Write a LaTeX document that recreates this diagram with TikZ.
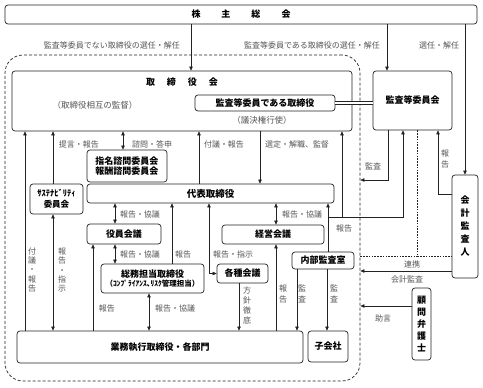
\documentclass[tikz,border=0pt]{standalone}
\usepackage{fontspec}
\setmainfont{Noto Sans CJK JP}
\usetikzlibrary{arrows.meta}
\definecolor{ink}{HTML}{222222}
\definecolor{note}{HTML}{555555}
\tikzset{
  bx/.style={draw=ink, fill=white, rounded corners=3pt, line width=.7pt, inner sep=0pt, align=center,
             font=\bfseries\fontsize{9}{10.5}\selectfont},
  flow/.style={-{Triangle[length=4pt,width=3.4pt]}, line width=.55pt, draw=ink},
  flow2/.style={{Triangle[length=4pt,width=3.4pt]}-{Triangle[length=4pt,width=3.4pt]}, line width=.55pt, draw=ink},
  lbl/.style={font=\fontsize{8}{9}\selectfont, text=note, inner sep=0pt},
  vlbl/.style={lbl, align=center, font=\fontsize{8}{#1}\selectfont}, vlbl/.default=9.3,
  dots/.style={draw=ink, line width=.55pt, dash pattern=on 1.6pt off 1.2pt},
}
\begin{document}
\begin{tikzpicture}[x=1pt,y=-1pt,
  zone/.style={draw=ink, line width=.7pt, dash pattern=on 3pt off 2pt, rounded corners=18pt, inner sep=0pt}]
\useasboundingbox (0,0) rectangle (483,388);

% shareholders and the board area
\node[bx, minimum width=472pt, minimum height=19pt] (soukai) at (241,14.5) {株\hspace{21pt}主\hspace{21pt}総\hspace{21pt}会};
\node[zone, minimum width=355pt, minimum height=326pt] (area) at (182.5,218) {};
\node[bx, minimum width=340pt, minimum height=60pt] (torikai) at (182,101) {};
\node[font=\bfseries\fontsize{9}{10}\selectfont] (torititle) at (182,82) {取\hspace{12pt}締\hspace{12pt}役\hspace{12pt}会};
\node[lbl, font=\fontsize{8.5}{9}\selectfont] (sougo) at (95,105) {（取締役相互の監督）};
\node[bx, minimum width=140pt, minimum height=16pt] (kansatori) at (265,103) {監査等委員である取締役};
\node[lbl, font=\fontsize{8.5}{9}\selectfont] (giketsu) at (262,120) {（議決権行使）};
\node[bx, minimum width=79pt, minimum height=59pt] (kansaiin) at (412.5,100.5) {監査等委員会};
\node[bx, minimum width=26pt, minimum height=103pt, font=\bfseries\fontsize{9}{13}\selectfont] (kaikei) at (465,226.5) {会\\計\\監\\査\\人};
\node[bx, minimum width=19pt, minimum height=72pt, font=\bfseries\fontsize{9}{12}\selectfont] (bengoshi) at (421.5,324) {顧\\問\\弁\\護\\士};

% committees and executive bodies
\node[bx, minimum width=80pt, minimum height=32pt] (shimei) at (127,166) {指名諮問委員会\\報酬諮問委員会};
\node[bx, minimum width=53pt, minimum height=30pt, font=\bfseries\fontsize{8.5}{11}\selectfont] (susten) at (56.5,199) {ｻｽﾃﾅﾋﾞﾘﾃｨ\\委員会};
\node[bx, minimum width=247pt, minimum height=19pt, font=\bfseries\fontsize{9.5}{10}\selectfont] (daihyo) at (210.5,193.5) {代表取締役};
\node[bx, minimum width=74pt, minimum height=20pt] (yakuin) at (124,234) {役員会議};
\node[bx, minimum width=102pt, minimum height=19pt] (keiei) at (273,234.5) {経営会議};
\node[bx, minimum width=103pt, minimum height=29pt] (somu) at (152.5,278.5) {総務担当取締役\\[-1pt]{\fontsize{7.5}{8}\selectfont （ｺﾝﾌﾟﾗｲｱﾝｽ､ﾘｽｸ管理担当）}};
\node[bx, minimum width=51pt, minimum height=19pt] (kakushu) at (242.5,273.5) {各種会議};
\node[bx, minimum width=62pt, minimum height=17pt] (naibu) at (323,260.5) {内部監査室};
\node[bx, minimum width=286pt, minimum height=32pt] (gyomu) at (160,347) {業務執行取締役・各部門};
\node[bx, minimum width=40pt, minimum height=31pt] (kogaisha) at (328,346.5) {子会社};

% from the shareholders' meeting
\foreach \x/\n in {191/torikai,387/kansaiin,465/kaikei}
  \draw[flow] (soukai.south -| \x,0) -- (\n.north -| \x,0);
\node[lbl] (sennin1) at (112,45) {監査等委員でない取締役の選任・解任};
\node[lbl] (sennin2) at (312,45) {監査等委員である取締役の選任・解任};
\node[lbl] (sennin3) at (439,45) {選任・解任};
\draw[draw=ink, double, double distance=2.4pt, line width=.55pt] (kansatori.east) -- (kansatori.east -| kansaiin.west);

% up to the board
\draw[flow] (gyomu.north -| 25,0) -- (torikai.south -| 25,0);
\node[vlbl] (fugi1) at (32,270) {付\\議\\・\\報\\告};
\draw[flow] (susten.north -| 53,0) -- (torikai.south -| 53,0);
\node[lbl] (teigen) at (79,144) {提言・報告};
\draw[flow2] (gyomu.north -| 53,0) -- (susten.south -| 53,0);
\node[vlbl] (shiji1) at (62,270) {報\\告\\・\\指\\示};
\draw[flow2] (shimei.north -| 123,0) -- (torikai.south -| 123,0);
\node[lbl] (shimon) at (152,144) {諮問・答申};
\draw[flow] (daihyo.north -| 199,0) -- (torikai.south -| 199,0);
\node[lbl] (fugi2) at (224,144) {付議・報告};
\draw[flow] (torikai.south -| 260,0) -- (daihyo.north -| 260,0);
\node[lbl] (sentei) at (297,144) {選定・解職、監督};

% around the representative director
\draw[flow2] (daihyo.south -| 115,0) -- (yakuin.north -| 115,0);
\node[lbl] (kyogi1) at (140,214) {報告・協議};
\draw[flow2] (yakuin.south -| 115,0) -- (somu.north -| 115,0);
\node[lbl] (kyogi2) at (140,254) {報告・協議};
\draw[flow] (somu.north -| 172,0) -- (daihyo.south -| 172,0);
\node[lbl] (hokoku1) at (183,254) {報告};
\draw[flow2] (daihyo.south -| 209,0) |- (kakushu.west);
\node[lbl] (shiji2) at (233,254) {報告・指示};
\draw[flow2] (daihyo.south -| 276,0) -- (keiei.north -| 276,0);
\node[lbl] (kyogi3) at (302,214) {報告・協議};
\draw[flow] (gyomu.north -| 276,0) -- (keiei.south -| 276,0);
\node[vlbl=11.5] (hokoku2) at (283,294) {報\\告};
\draw[flow2] (somu.south -| 149,0) -- (gyomu.north -| 149,0);
\node[lbl] (kyogi4) at (175,308) {報告・協議};
\draw[flow] (gyomu.north -| 93,0) -- (yakuin.south -| 93,0);
\node[lbl] (hokoku3) at (107,308) {報告};
\draw[flow] (kakushu.south -| 239,0) -- (gyomu.north -| 239,0);
\node[vlbl=10] (tettei) at (247,305) {方\\針\\徹\\底};

% internal audit
\draw[flow] (naibu.north -| 328,0) -- (daihyo.south -| 328,0);
\coordinate (fork) at (328,217);
\draw[flow] (fork) -| (kansaiin.south -| 403,0);
\draw[flow] (fork -| 342,0) -- (torikai.south -| 342,0);
\node[lbl] (hokoku4) at (344,228) {報告};
\draw[flow] (naibu.south -| 297,0) -- (gyomu.north -| 297,0);
\node[vlbl=11.5] (kansa1) at (302,294) {監\\査};
\draw[flow] (naibu.south -| 327,0) -- (kogaisha.north -| 327,0);
\node[vlbl=11.5] (kansa2) at (334,294) {監\\査};

% audit committee, auditor, lawyer
\draw[flow] (kansaiin.south -| 388,0) |- (area.east |- 0,180);
\node[lbl] (kansa3) at (373,166) {監査};
\coordinate (renkei) at (417,256);
\draw[dots] (kansaiin.south -| 417,0) |- (kaikei.west |- renkei);
\draw[dots] (area.east |- renkei) -- (renkei);
\node[lbl] (renkeilbl) at (412,264) {連携};
\draw[flow] (kaikei.west |- 0,271) -- (area.east |- 0,271);
\node[lbl] (kaikansa) at (407,279) {会計監査};
\draw[flow] (kaikei.west |- 0,194) -| (kansaiin.south -| 438,0);
\node[vlbl=11.5] (hokoku5) at (445,159) {報\\告};
\draw[flow] (bengoshi.west |- 0,306) -- (area.east |- 0,306);
\node[lbl] (jogen) at (383,318) {助言};
\end{tikzpicture}
\end{document}
